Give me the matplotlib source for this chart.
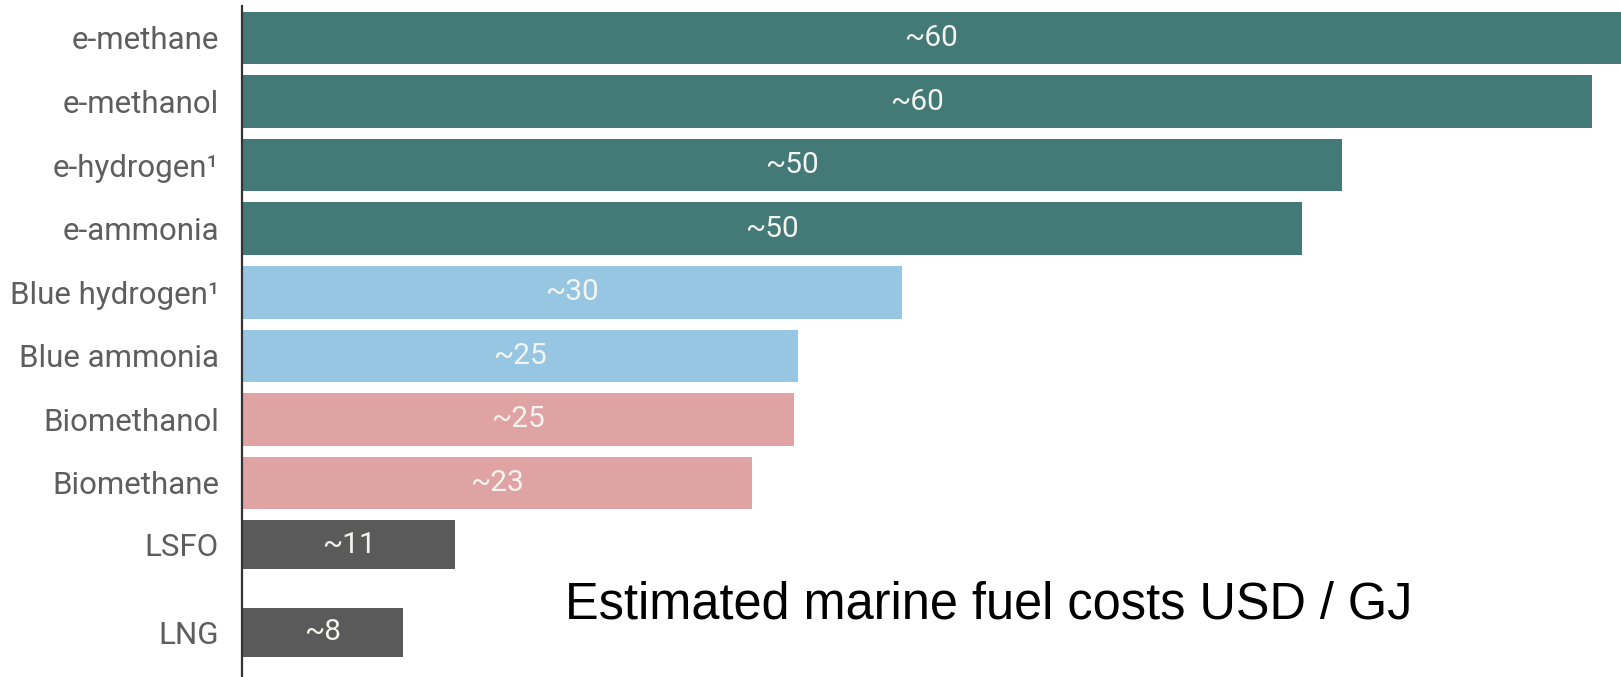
import matplotlib
matplotlib.use("Agg")
import matplotlib.pyplot as plt

# Estimated marine fuel costs, USD per GJ
fuels = ["e-methane", "e-methanol", "e-hydrogen\u00b9", "e-ammonia",
         "Blue hydrogen\u00b9", "Blue ammonia", "Biomethanol", "Biomethane",
         "LSFO", "LNG"]
costs = [62.7, 61.4, 50.0, 48.2, 30.0, 25.3, 25.1, 23.2, 9.7, 7.3]
cost_labels = ["~60", "~60", "~50", "~50", "~30", "~25", "~25", "~23", "~11", "~8"]
groups = ["e-fuel"] * 4 + ["blue"] * 2 + ["bio"] * 2 + ["fossil"] * 2

group_colors = {"e-fuel": "#437a78", "blue": "#97c6e3",
                "bio": "#e0a3a4", "fossil": "#5a5a5a"}

# row layout (fossil fuels set slightly apart)
row_pos = [0, 1, 2, 3, 4, 5, 6, 7, 7.968, 9.352]
row_height = [0.827] * 8 + [0.771, 0.761]

W, H = 1621, 677
fig = plt.figure(figsize=(W / 100, H / 100), dpi=100)
ax = fig.add_axes([242 / W, 0, 1 - 242 / W, (H - 6) / H])

font = ["Roboto", "DejaVu Sans"]

ax.barh(row_pos, costs, height=row_height,
        color=[group_colors[g] for g in groups], linewidth=0)

for y, v, lab in zip(row_pos, costs, cost_labels):
    ax.text(v / 2, y, lab, ha="center", va="center", fontsize=21.5,
            color="#f4f4ef", family=font)

ax.set_xlim(0, 62.7)
ax.set_ylim(10.052, -0.503)
ax.set_yticks(row_pos)
ax.set_yticklabels(fuels, family=font, fontsize=22.5, color="#5e5e5e")
ax.tick_params(axis="y", length=0, pad=16.5)
ax.set_xticks([])

for side in ["top", "right", "bottom"]:
    ax.spines[side].set_visible(False)
ax.spines["left"].set_color("#333333")
ax.spines["left"].set_linewidth(1.6)

fig.text(565 / W, 1 - 605 / H, "Estimated marine fuel costs USD / GJ",
         ha="left", va="center", fontsize=36.4, color="black",
         family=["Liberation Sans Narrow", "Liberation Sans", "DejaVu Sans"])

fig.savefig("out.png", dpi=100, facecolor="white")
